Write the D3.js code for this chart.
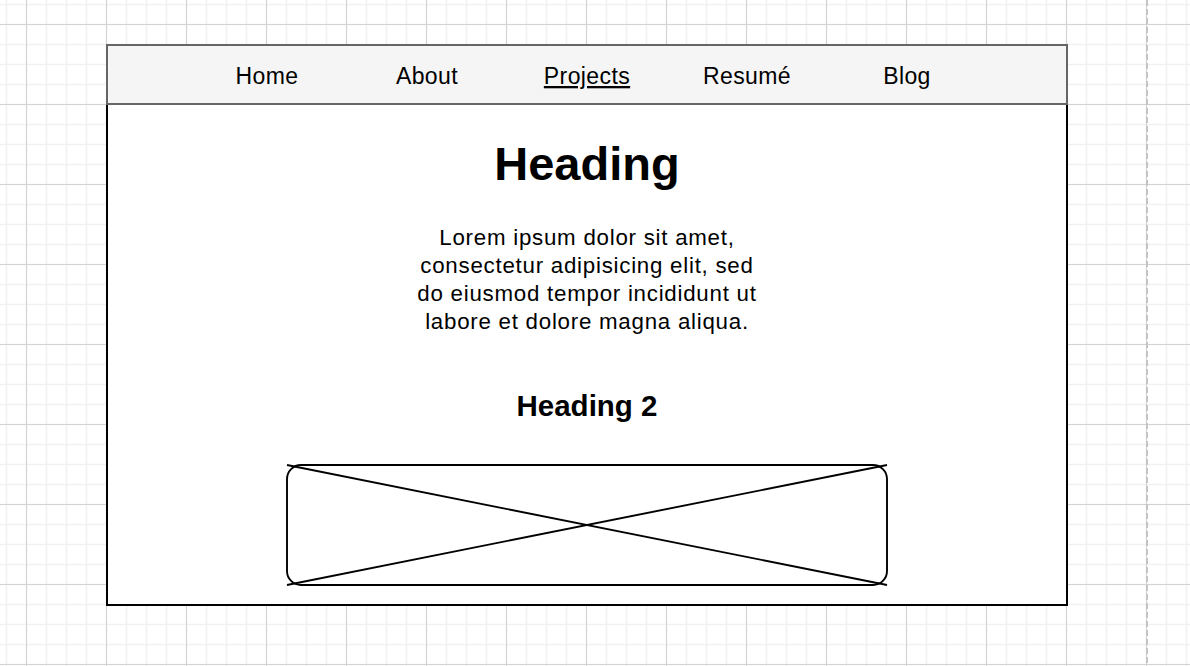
<!DOCTYPE html>
<html>
<head>
<meta charset="utf-8">
<script src="https://cdn.jsdelivr.net/npm/d3@7"></script>
<style>
html,body{margin:0;padding:0;background:#fff;}
svg{display:block;}
text{font-family:"Liberation Sans",Arial,Helvetica,sans-serif;fill:#000;}
</style>
</head>
<body>
<svg id="chart" width="1190" height="666"></svg>
<script>
// ---- content ----
const navItems = ["Home", "About", "Projects", "Resumé", "Blog"];
const activeItem = "Projects";
const headingText = "Heading";
const paragraphLines = [
  "Lorem ipsum dolor sit amet,",
  "consectetur adipisicing elit, sed",
  "do eiusmod tempor incididunt ut",
  "labore et dolore magna aliqua."
];
const heading2Text = "Heading 2";

// ---- drawing ----
const W = 1190, H = 666;
const svg = d3.select("#chart");

// background grid
const grid = svg.append("g");
const minorStep = 20, majorStep = 80, offX = 26, offY = 24;
const minorX = d3.range(offX % minorStep, W, minorStep);
const minorY = d3.range(offY % minorStep, H, minorStep);
const majorX = d3.range(offX % majorStep, W, majorStep);
const majorY = d3.range(offY % majorStep, H, majorStep);
grid.selectAll(".mx").data(minorX).join("line")
  .attr("x1", d => d + 0.5).attr("x2", d => d + 0.5).attr("y1", 0).attr("y2", H)
  .attr("stroke", "#f1f1f1").attr("stroke-width", 1.6);
grid.selectAll(".my").data(minorY).join("line")
  .attr("y1", d => d + 0.5).attr("y2", d => d + 0.5).attr("x1", 0).attr("x2", W)
  .attr("stroke", "#f1f1f1").attr("stroke-width", 1.6);
grid.selectAll(".Mx").data(majorX).join("line")
  .attr("x1", d => d + 0.5).attr("x2", d => d + 0.5).attr("y1", 0).attr("y2", H)
  .attr("stroke", "#d3d3d3").attr("stroke-width", 1);
grid.selectAll(".My").data(majorY).join("line")
  .attr("y1", d => d + 0.5).attr("y2", d => d + 0.5).attr("x1", 0).attr("x2", W)
  .attr("stroke", "#d3d3d3").attr("stroke-width", 1);

// page-edge dashed line
svg.append("line")
  .attr("x1", 1147).attr("x2", 1147).attr("y1", 0).attr("y2", H)
  .attr("stroke", "#c4c4c4").attr("stroke-width", 2)
  .attr("stroke-dasharray", "6,3");

// layout
const box = {x: 107, y: 45, w: 960, navH: 59, h: 560};
const cx = box.x + box.w / 2;

// main content box
svg.append("rect")
  .attr("x", box.x).attr("y", box.y + box.navH)
  .attr("width", box.w).attr("height", box.h - box.navH)
  .attr("fill", "#fff").attr("stroke", "#000").attr("stroke-width", 2);

// nav bar
svg.append("rect")
  .attr("x", box.x).attr("y", box.y)
  .attr("width", box.w).attr("height", box.navH)
  .attr("fill", "#f5f5f5").attr("stroke", "#666").attr("stroke-width", 2);

const navX = d3.scaleBand().domain(navItems).range([box.x + 80, box.x + box.w - 80]);
const nav = svg.append("g");
nav.selectAll("text").data(navItems).join("text")
  .attr("x", d => navX(d) + navX.bandwidth() / 2)
  .attr("y", box.y + 39)
  .attr("text-anchor", "middle")
  .attr("font-size", 23)
  .attr("letter-spacing", 0.4)
  .attr("text-decoration", d => d === activeItem ? "underline" : null)
  .text(d => d);

// heading
svg.append("text")
  .attr("x", cx).attr("y", 180)
  .attr("text-anchor", "middle")
  .attr("font-size", 47).attr("font-weight", "bold")
  .text(headingText);

// paragraph
const lineY = d3.scalePoint().domain(d3.range(paragraphLines.length)).range([245, 329]);
svg.append("g").selectAll("text").data(paragraphLines).join("text")
  .attr("x", cx)
  .attr("y", (d, i) => lineY(i))
  .attr("text-anchor", "middle")
  .attr("font-size", 22.3)
  .attr("letter-spacing", 0.75)
  .text(d => d);

// heading 2
svg.append("text")
  .attr("x", cx).attr("y", 416)
  .attr("text-anchor", "middle")
  .attr("font-size", 29.5).attr("font-weight", "bold")
  .text(heading2Text);

// image placeholder
const img = {x: 287, y: 465, w: 600, h: 120, r: 14};
const ph = svg.append("g").attr("fill", "none").attr("stroke", "#000").attr("stroke-width", 1.9);
ph.append("rect")
  .attr("x", img.x).attr("y", img.y).attr("width", img.w).attr("height", img.h)
  .attr("rx", img.r).attr("ry", img.r);
ph.append("line")
  .attr("x1", img.x).attr("y1", img.y).attr("x2", img.x + img.w).attr("y2", img.y + img.h);
ph.append("line")
  .attr("x1", img.x).attr("y1", img.y + img.h).attr("x2", img.x + img.w).attr("y2", img.y);
</script>
</body>
</html>
